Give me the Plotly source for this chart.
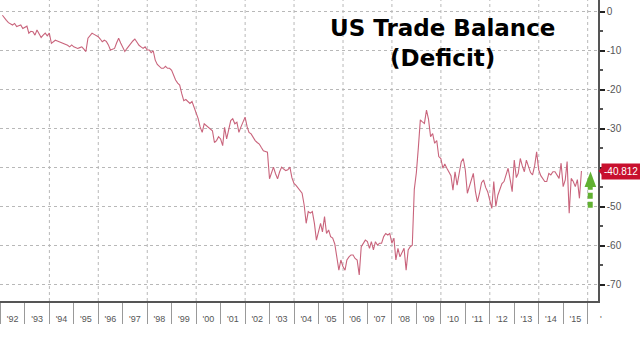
import pandas as pd
import plotly.graph_objects as go

# Monthly US trade balance (USD bn), Jan 1992 - Sep 2015
y1992 = [-0.9, -1.7, -2.2, -2.8, -3.2, -3.4, -3.0, -3.8, -3.6, -3.4, -4.3, -3.9]
y1993 = [-3.7, -5.5, -5.0, -5.1, -6.0, -4.7, -5.8, -6.6, -6.0, -5.5, -6.2, -5.5]
y1994 = [-8.1, -7.6, -7.3, -7.5, -7.7, -8.0, -8.1, -8.3, -8.6, -9.0, -8.5, -9.0]
y1995 = [-9.2, -9.4, -9.2, -9.0, -9.6, -10.2, -6.8, -6.0, -5.5, -5.8, -6.0, -6.4]
y1996 = [-7.0, -7.7, -7.3, -7.6, -8.5, -9.8, -9.6, -9.4, -8.0, -6.8, -8.0, -9.0]
y1997 = [-10.2, -9.5, -8.8, -8.0, -7.5, -7.0, -8.0, -8.6, -9.0, -9.4, -9.0, -9.8]
y1998 = [-9.8, -10.5, -10.0, -12.4, -13.5, -14.0, -14.5, -14.5, -14.0, -14.5, -14.5, -15.0]
y1999 = [-16.6, -17.5, -18.3, -18.8, -21.0, -22.8, -22.5, -23.1, -23.5, -23.0, -24.5, -25.8]
y2000 = [-27.4, -29.5, -30.9, -28.7, -29.2, -29.5, -30.0, -30.5, -33.5, -33.0, -32.0, -32.6]
y2001 = [-34.3, -29.6, -32.6, -30.0, -27.9, -27.4, -28.7, -28.3, -30.9, -29.5, -28.3, -27.0]
y2002 = [-29.5, -30.9, -31.3, -32.2, -33.0, -33.5, -33.9, -34.8, -35.6, -35.8, -36.0, -42.8]
y2003 = [-41.0, -39.8, -41.5, -42.8, -41.0, -39.8, -40.3, -40.7, -40.5, -39.8, -42.5, -44.0]
y2004 = [-44.5, -45.2, -45.8, -46.5, -49.5, -54.2, -51.2, -51.6, -51.2, -54.2, -58.5, -56.0]
y2005 = [-54.2, -56.4, -52.5, -56.8, -55.9, -57.6, -58.0, -59.5, -62.8, -66.2, -63.6, -65.3]
y2006 = [-66.2, -63.6, -62.8, -62.3, -62.3, -63.2, -63.6, -67.4, -60.2, -59.3, -58.5, -58.9]
y2007 = [-60.6, -58.9, -61.0, -58.9, -59.8, -59.3, -59.3, -57.6, -56.8, -57.2, -56.8, -59.3]
y2008 = [-58.0, -63.6, -60.6, -62.8, -61.5, -60.6, -66.2, -61.0, -60.2, -59.8, -45.5, -41.2]
y2009 = [-34.5, -27.7, -28.2, -28.6, -25.2, -27.5, -32.0, -31.2, -33.7, -33.0, -37.1, -37.6]
y2010 = [-40.1, -39.0, -40.1, -41.0, -42.0, -45.7, -41.0, -44.4, -41.0, -38.5, -37.6, -40.5]
y2011 = [-46.5, -44.8, -43.0, -41.4, -46.0, -48.7, -46.5, -43.8, -43.1, -45.0, -46.1, -48.0]
y2012 = [-50.4, -43.5, -49.9, -47.0, -45.2, -44.0, -43.5, -41.5, -40.1, -43.0, -46.1, -38.0]
y2013 = [-42.5, -41.4, -37.6, -39.5, -41.0, -38.0, -39.5, -41.2, -41.8, -39.5, -35.9, -40.5]
y2014 = [-42.0, -42.7, -43.5, -43.5, -41.4, -41.8, -41.0, -41.0, -42.0, -42.7, -38.8, -44.8]
y2015 = [-43.1, -38.4, -51.6, -42.7, -43.5, -44.8, -43.0, -47.8, -40.812]

balance = (y1992 + y1993 + y1994 + y1995 + y1996 + y1997 + y1998 + y1999 + y2000
           + y2001 + y2002 + y2003 + y2004 + y2005 + y2006 + y2007 + y2008 + y2009
           + y2010 + y2011 + y2012 + y2013 + y2014 + y2015)

first_month = "1992-01-01"
years = list(range(1992, 2016))
year_labels = ["'" + str(y)[2:] for y in years]
y_ticks = [0, -10, -20, -30, -40, -50, -60, -70]
# the -40 label is covered by the last-value tag in the reference
y_ticktext = ["0", "-10", "-20", "-30", "", "-50", "-60", "-70"]
last_value = balance[-1]

dates = pd.date_range(first_month, periods=len(balance), freq="MS") + pd.offsets.MonthEnd(0)

fig = go.Figure()
fig.add_trace(go.Scatter(
    x=dates, y=balance, mode="lines",
    line=dict(color="#c9647c", width=1.1),
    hoverinfo="skip", showlegend=False,
))

grid_col = "#b8b8b8"
shapes = []
for y in range(1994, 2017, 2):
    shapes.append(dict(type="line", xref="x", yref="paper",
                       x0=f"{y}-01-01", x1=f"{y}-01-01", y0=0, y1=1,
                       line=dict(color=grid_col, width=1, dash="dot"), layer="below"))

# red value tag pointer
shapes.append(dict(type="path", xref="paper", yref="y",
                   path=f"M 1.001 {last_value} L 1.008 {last_value + 1.3} L 1.008 {last_value - 1.3} Z",
                   fillcolor="#c8102e", line=dict(width=0)))

# green dashed arrow
shapes.append(dict(type="line", xref="paper", yref="y",
                   x0=0.9870, x1=0.9870, y0=-50.2, y1=-44.6,
                   line=dict(color="#62b132", width=5, dash="6px,3px")))
shapes.append(dict(type="path", xref="paper", yref="y",
                   path="M 0.9875 -40.9 L 0.9775 -44.9 L 0.9970 -44.9 Z",
                   fillcolor="#62b132", line=dict(width=0)))

annotations = [
    dict(text="<b>US Trade Balance</b><br><b>(Deficit)</b>", xref="paper", yref="paper",
         x=0.740, y=0.857, xanchor="center", yanchor="middle", showarrow=False,
         font=dict(family="DejaVu Sans", size=23, color="#000")),
    dict(text=f"{last_value:.3f}", xref="paper", yref="y", x=1.0, y=last_value,
         xanchor="left", yanchor="middle", xshift=3, showarrow=False,
         bgcolor="#c8102e", borderpad=2,
         font=dict(family="Liberation Sans", size=10, color="#fff")),
    dict(text="'", xref="paper", yref="paper", x=1.0, y=0, yanchor="top", xanchor="left",
         yshift=-11, xshift=0, showarrow=False,
         font=dict(family="Liberation Sans", size=9, color="#555")),
]

fig.update_layout(
    width=640, height=337,
    margin=dict(l=0, r=42, t=0, b=36),
    paper_bgcolor="white", plot_bgcolor="white",
    shapes=shapes, annotations=annotations,
    xaxis=dict(
        type="date",
        range=["1991-12-26", "2016-06-03"],
        tickmode="array",
        tickvals=[f"{y}-07-01" for y in years],
        ticktext=year_labels,
        ticks="outside", ticklen=8, tickcolor="rgba(0,0,0,0)",
        tickfont=dict(family="Liberation Sans", size=9, color="#555"),
        showgrid=False, zeroline=False,
        showline=True, linecolor="#555", linewidth=1.5,
        minor=dict(tickmode="array", tickvals=[f"{y}-01-01" for y in years + [2016]],
                   ticks="outside", ticklen=21, tickcolor="#999", tickwidth=1, showgrid=False),
    ),
    yaxis=dict(
        side="right",
        range=[-74.1, 3.0],
        tickmode="array", tickvals=y_ticks, ticktext=y_ticktext,
        ticks="outside", ticklen=5, tickwidth=2, tickcolor="#222",
        tickfont=dict(family="Liberation Sans", size=10, color="#555"),
        showgrid=True, gridcolor=grid_col, griddash="dot", gridwidth=1,
        zeroline=False, showline=True, linecolor="#555", linewidth=1.5,
        minor=dict(tickmode="array", tickvals=[-5, -15, -25, -35, -45, -55, -65],
                   ticks="outside", ticklen=3, tickcolor="#555", showgrid=False),
    ),
)

fig.write_html("out.html")
